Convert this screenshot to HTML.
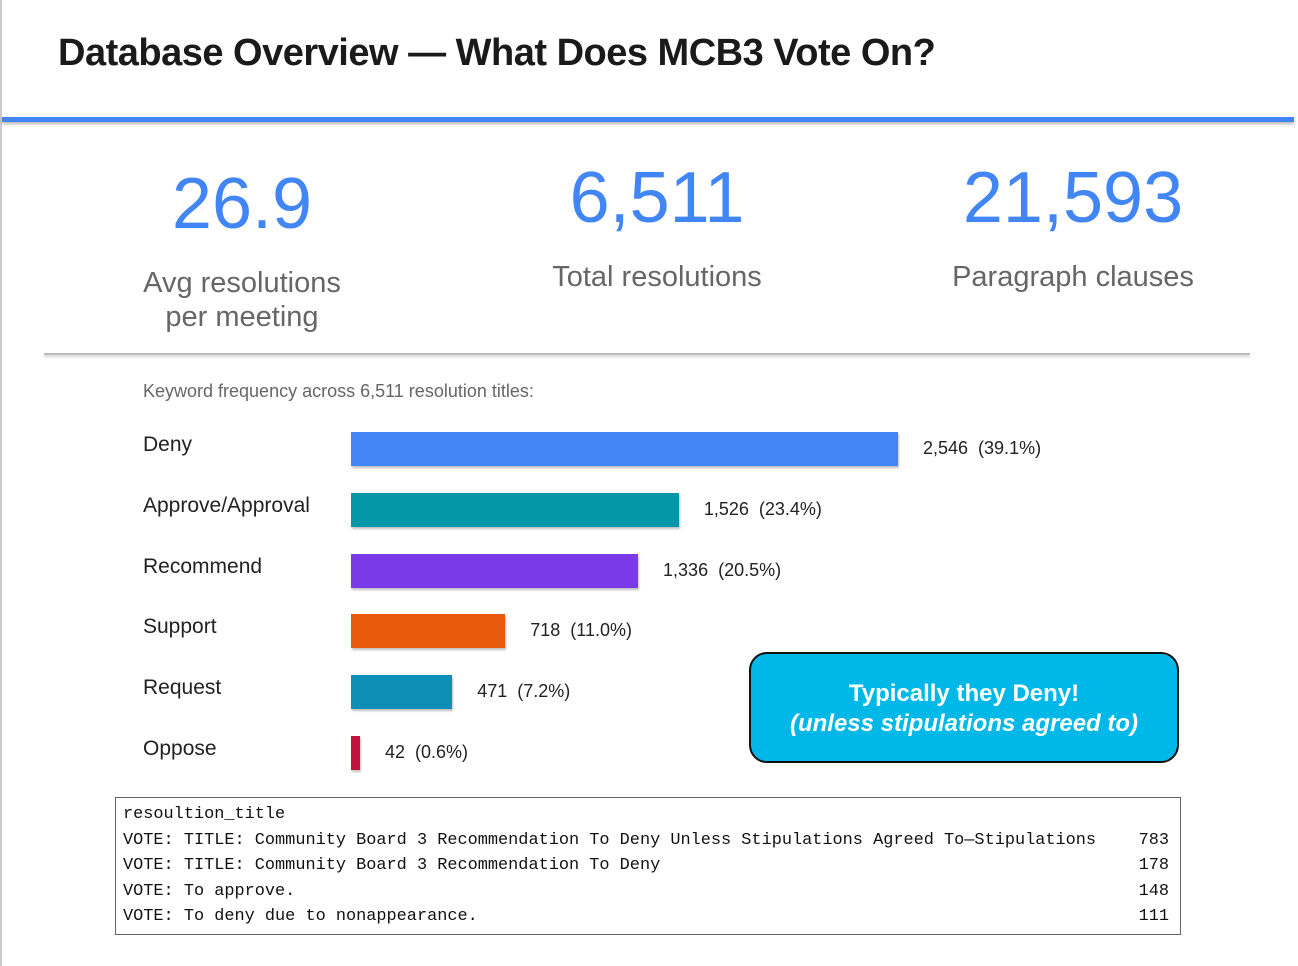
<!DOCTYPE html>
<html><head><meta charset="utf-8"><style>
body{margin:0;width:1298px;height:966px;background:#fff;position:relative;overflow:hidden;font-family:"Liberation Sans",sans-serif;}
.abs{position:absolute;}
.stat{position:absolute;text-align:center;width:400px;color:#4285f4;font-size:72px;line-height:1;}
.lbl{position:absolute;text-align:center;width:400px;color:#666;font-size:29px;line-height:34px;}
.cat{position:absolute;left:143px;font-size:21px;color:#222;}
.val{position:absolute;font-size:18px;color:#222;white-space:pre;}
.bar{position:absolute;box-shadow:1px 2px 2px rgba(0,0,0,.25);}
.row{display:flex;justify-content:space-between;font-family:"Liberation Mono",monospace;font-size:16.9px;line-height:25.5px;color:#111;white-space:pre;padding-right:11px;}
</style></head><body>
<div class="abs" style="left:0;top:0;width:2px;height:966px;background:#ccc"></div>
<div class="abs" style="left:58px;top:32px;font-size:38px;font-weight:bold;color:#1a1a1a;letter-spacing:-0.5px">Database Overview — What Does MCB3 Vote On?</div>
<div class="abs" style="left:2px;top:117px;width:1292px;height:5px;background:#4285f4;box-shadow:0 2px 3px rgba(0,0,0,.3)"></div>
<div class="stat" style="left:42px;top:168px">26.9</div>
<div class="lbl" style="left:42px;top:266px">Avg resolutions<br>per meeting</div>
<div class="stat" style="left:457px;top:162px">6,511</div>
<div class="lbl" style="left:457px;top:260px">Total resolutions</div>
<div class="stat" style="left:873px;top:162px">21,593</div>
<div class="lbl" style="left:873px;top:260px">Paragraph clauses</div>
<div class="abs" style="left:44px;top:353px;width:1206px;height:2px;background:#bbb;box-shadow:0 2px 2px rgba(0,0,0,.2)"></div>
<div class="abs" style="left:143px;top:381px;font-size:18px;color:#666">Keyword frequency across 6,511 resolution titles:</div>
<div id="chart"></div>
<div class="abs" style="left:749px;top:652px;width:426px;height:107px;background:#00b8e8;border:2px solid #111;border-radius:18px;color:#fff;text-align:center;font-size:24px;font-weight:bold;line-height:30px;box-sizing:content-box">
<div style="padding-top:25px">Typically they Deny!<br><i>(unless stipulations agreed to)</i></div></div>
<div class="abs" style="left:115px;top:797px;width:1057px;height:132px;border:1.5px solid #666;padding:4px 0 0 7px;box-sizing:content-box">
<div class="row"><span>resoultion_title</span><span></span></div>
<div class="row"><span>VOTE: TITLE: Community Board 3 Recommendation To Deny Unless Stipulations Agreed To—Stipulations</span><span>783</span></div>
<div class="row"><span>VOTE: TITLE: Community Board 3 Recommendation To Deny</span><span>178</span></div>
<div class="row"><span>VOTE: To approve.</span><span>148</span></div>
<div class="row"><span>VOTE: To deny due to nonappearance.</span><span>111</span></div>
</div>
<script>
const categories=["Deny","Approve/Approval","Recommend","Support","Request","Oppose"];
const counts=[2546,1526,1336,718,471,42];
const percents=["39.1%","23.4%","20.5%","11.0%","7.2%","0.6%"];
const colors=["#4285f4","#0597a7","#7a3ae8","#e8590c","#0e8fb5","#c0143c"];
const x0=351,pxPer=547/2546,y0=432,step=60.8,bh=34;
const xs=v=>v*pxPer;
const ys=i=>y0+i*step;
const c=document.getElementById('chart');
categories.forEach((name,i)=>{
  const y=ys(i);
  const l=document.createElement('div');l.className='cat';l.style.top=(y+1)+'px';l.textContent=name;
  
  
  c.appendChild(l);
  const w=Math.max(xs(counts[i]),8);
  const b=document.createElement('div');b.className='bar';
  b.style.left=x0+'px';b.style.top=y+'px';b.style.width=w+'px';b.style.height=bh+'px';b.style.background=colors[i];
  
  
  c.appendChild(b);
  const v=document.createElement('div');v.className='val';
  v.style.left=(x0+w+25)+'px';v.style.top=(y+6)+'px';
  v.textContent=counts[i].toLocaleString('en-US')+'  ('+percents[i]+')';
  
  
  c.appendChild(v);
});
</script>
</body></html>
